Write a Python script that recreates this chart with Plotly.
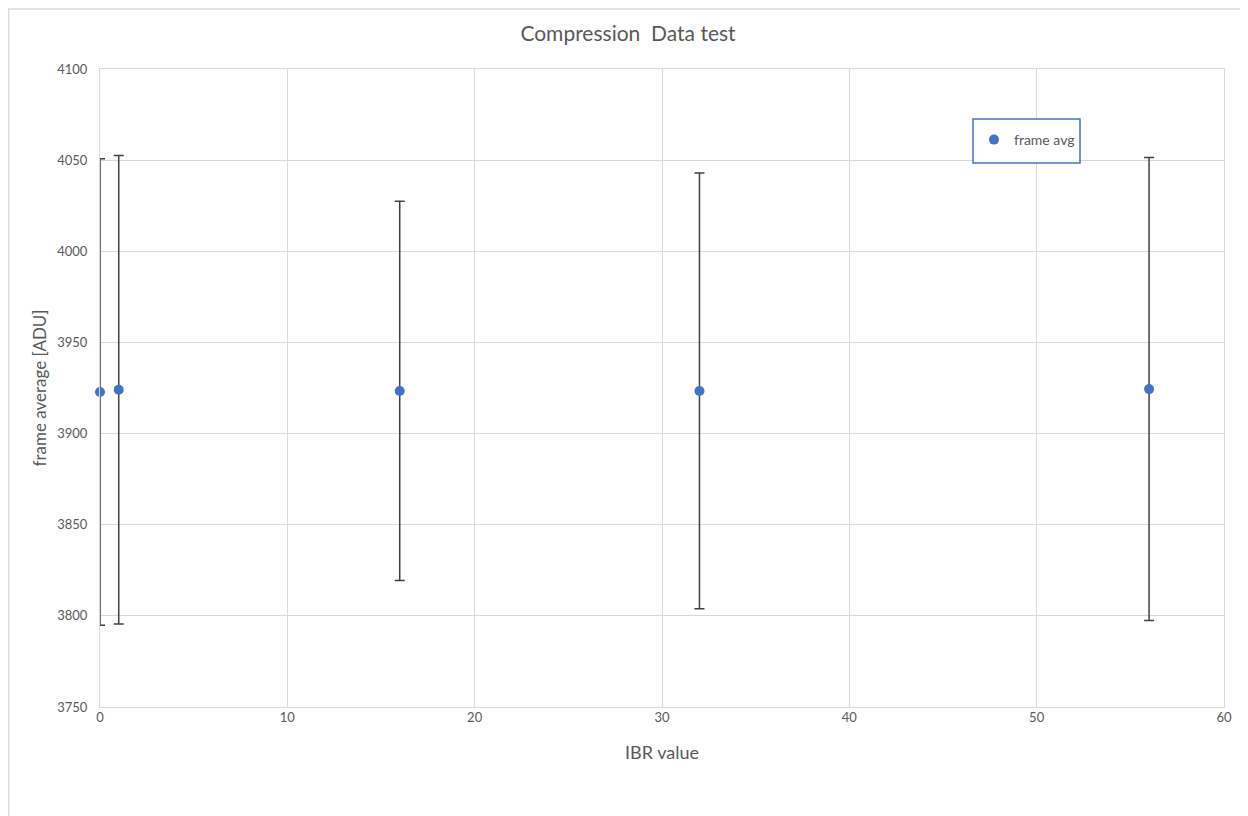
import plotly.graph_objects as go

ibr = [0, 1, 16, 32, 56]
frame_avg = [3922.8, 3924.0, 3923.4, 3923.4, 3924.4]
err = [128.0, 128.5, 104.0, 119.5, 127.0]

FONT = "Lato, Open Sans, sans-serif"
GRID = "#d9d9d9"
TXT = "#595959"

W, H = 1240, 808
L, R, T, B = 92, 24, 61, 109
PW = W - L - R
PH = H - T - B

fig = go.Figure()
fig.add_trace(go.Scatter(
    x=ibr, y=frame_avg, mode="markers", name="frame avg",
    marker=dict(color="#4472C4", size=10),
    error_y=dict(type="data", array=err, visible=True, color="#404040", thickness=1.5, width=5),
    cliponaxis=False,
))

fig.update_layout(
    width=W, height=H,
    margin=dict(l=L, r=R, t=T, b=B),
    paper_bgcolor="white", plot_bgcolor="white",
    font=dict(family=FONT, color=TXT, size=13),
    title=dict(text="Compression  Data test", x=0.5, xanchor="center", y=1 - 26 / H, yanchor="middle",
               font=dict(size=21, color=TXT, family=FONT)),
    showlegend=True,
    legend=dict(x=(966 - L) / PW, y=(H - B - 116) / PH, xanchor="left", yanchor="top",
                borderwidth=0, bgcolor="rgba(0,0,0,0)",
                font=dict(size=14, color=TXT), itemwidth=30),
    xaxis=dict(range=[0, 60], dtick=10, tick0=0, showgrid=True, gridcolor=GRID, gridwidth=1,
               showline=True, linecolor=GRID, mirror=True, zeroline=False,
               ticks="", ticklabelstandoff=-2,
               title=dict(text="IBR value", font=dict(size=18, color=TXT), standoff=22)),
    yaxis=dict(range=[3750, 4100], dtick=50, tick0=3750, showgrid=True, gridcolor=GRID, gridwidth=1,
               showline=True, linecolor=GRID, mirror=True, zeroline=False,
               ticks="", ticklabelstandoff=9,
               title=dict(text="frame average [ADU]", font=dict(size=17, color=TXT), standoff=6)),
)

# legend frame
fig.add_shape(type="rect", xref="paper", yref="paper",
              x0=(965 - L) / PW, x1=(1072 - L) / PW,
              y0=(H - B - 155) / PH, y1=(H - B - 111) / PH,
              line=dict(color="#4472C4", width=1.5), fillcolor="white", layer="above")

# outer chart border
fig.add_shape(type="rect", xref="paper", yref="paper",
              x0=-L / PW + 0.0005, x1=1.05, y0=-0.3, y1=(H - B - 1) / PH,
              line=dict(color=GRID, width=1.5), fillcolor="rgba(0,0,0,0)", layer="below")

fig.write_html("out.html")
